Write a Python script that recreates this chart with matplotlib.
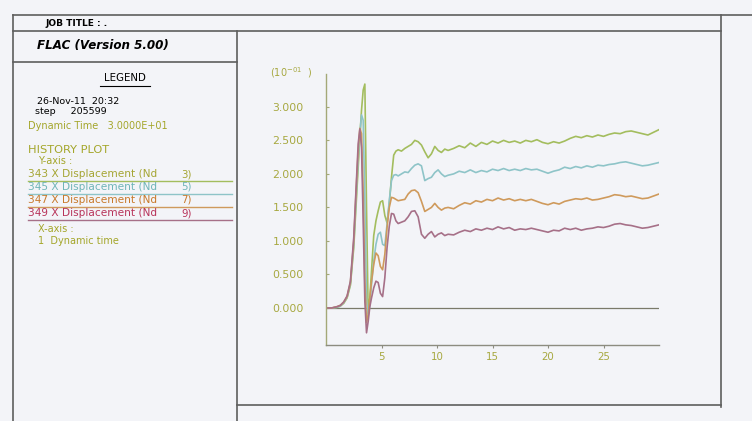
import matplotlib
matplotlib.use("Agg")
import matplotlib.pyplot as plt
from matplotlib.lines import Line2D

# ---------------- data ----------------
time = [0.0, 0.5, 1.0, 1.3, 1.6, 1.9, 2.2, 2.5, 2.7, 2.9, 3.05, 3.2, 3.35, 3.5, 3.65,
        3.8, 3.95, 4.1, 4.3, 4.5, 4.7, 4.9, 5.1, 5.3, 5.5, 5.7, 5.9, 6.1, 6.3, 6.5,
        6.8, 7.1, 7.4, 7.7, 8.0, 8.3, 8.6, 8.9, 9.2, 9.5, 9.8, 10.1, 10.4, 10.7, 11.0,
        11.5, 12.0, 12.5, 13.0, 13.5, 14.0, 14.5, 15.0, 15.5, 16.0, 16.5, 17.0, 17.5,
        18.0, 18.5, 19.0, 19.5, 20.0, 20.5, 21.0, 21.5, 22.0, 22.5, 23.0, 23.5, 24.0,
        24.5, 25.0, 25.5, 26.0, 26.5, 27.0, 27.5, 28.0, 28.5, 29.0, 29.5, 30.0]

disp_343 = [0.0, 0.0, 0.01, 0.03, 0.07, 0.15, 0.34, 0.9, 1.5, 2.1, 2.55, 2.95, 3.25, 3.34, 1.5,
            -0.08, 0.15, 0.55, 1.08, 1.3, 1.45, 1.58, 1.6, 1.38, 1.27, 1.55, 1.95, 2.28, 2.34, 2.36,
            2.34, 2.38, 2.41, 2.44, 2.5, 2.48, 2.43, 2.33, 2.24, 2.3, 2.41, 2.35, 2.32, 2.37, 2.35,
            2.38, 2.42, 2.39, 2.46, 2.41, 2.47, 2.44, 2.49, 2.46, 2.5, 2.47, 2.49, 2.46,
            2.5, 2.48, 2.51, 2.47, 2.45, 2.48, 2.46, 2.49, 2.53, 2.56, 2.54, 2.57, 2.55,
            2.58, 2.56, 2.59, 2.61, 2.6, 2.63, 2.64, 2.62, 2.6, 2.58, 2.62, 2.66]

disp_345 = [0.0, 0.0, 0.01, 0.03, 0.08, 0.16, 0.36, 0.95, 1.6, 2.2, 2.6, 2.88, 2.8, 1.6, 0.1,
            -0.12, 0.05, 0.35, 0.7, 0.95, 1.1, 1.13, 0.95, 0.93, 1.25, 1.6, 1.9, 1.98, 1.99, 1.97,
            2.0, 2.03, 2.02, 2.08, 2.13, 2.15, 2.12, 1.9, 1.93, 1.95, 2.02, 2.06, 2.0, 1.96, 1.98,
            2.0, 2.04, 2.02, 2.06, 2.02, 2.05, 2.03, 2.07, 2.05, 2.08, 2.05, 2.07, 2.05,
            2.08, 2.06, 2.07, 2.04, 2.01, 2.04, 2.06, 2.1, 2.08, 2.11, 2.09, 2.12, 2.1,
            2.13, 2.12, 2.14, 2.15, 2.17, 2.18, 2.16, 2.14, 2.12, 2.13, 2.15, 2.17]

disp_347 = [0.0, 0.0, 0.02, 0.04, 0.09, 0.17, 0.38, 1.0, 1.7, 2.35, 2.68, 2.6, 1.7, 0.4, -0.22,
            -0.1, 0.15, 0.4, 0.65, 0.82, 0.78, 0.62, 0.57, 0.8, 1.2, 1.5, 1.65, 1.64, 1.62, 1.6,
            1.61, 1.62, 1.7, 1.75, 1.76, 1.72, 1.59, 1.44, 1.47, 1.5, 1.56, 1.5, 1.46, 1.49, 1.5,
            1.48, 1.53, 1.57, 1.55, 1.6, 1.58, 1.62, 1.6, 1.64, 1.61, 1.63, 1.6, 1.62,
            1.6, 1.62, 1.59, 1.56, 1.54, 1.57, 1.55, 1.59, 1.61, 1.63, 1.62, 1.64, 1.61,
            1.62, 1.64, 1.66, 1.69, 1.68, 1.66, 1.67, 1.65, 1.63, 1.64, 1.67, 1.7]

disp_349 = [0.0, 0.0, 0.02, 0.04, 0.09, 0.18, 0.4, 1.05, 1.75, 2.45, 2.67, 2.4, 1.3, 0.1, -0.37,
            -0.2, 0.02, 0.15, 0.3, 0.4, 0.38, 0.22, 0.17, 0.45, 0.9, 1.22, 1.41, 1.4, 1.3, 1.26,
            1.28, 1.3, 1.36, 1.44, 1.45, 1.36, 1.1, 1.04, 1.1, 1.14, 1.06, 1.1, 1.12, 1.08, 1.1,
            1.09, 1.13, 1.16, 1.14, 1.18, 1.16, 1.19, 1.17, 1.21, 1.18, 1.2, 1.16, 1.18,
            1.17, 1.19, 1.17, 1.15, 1.13, 1.16, 1.15, 1.19, 1.17, 1.19, 1.16, 1.18, 1.19,
            1.21, 1.2, 1.22, 1.25, 1.26, 1.24, 1.23, 1.21, 1.19, 1.2, 1.22, 1.24]

series_labels = ["343 X Displacement (Nd", "345 X Displacement (Nd",
                 "347 X Displacement (Nd", "349 X Displacement (Nd"]
series_nodes = ["3)", "5)", "7)", "9)"]
yticks = [0.0, 0.5, 1.0, 1.5, 2.0, 2.5, 3.0]
xticks = [5, 10, 15, 20, 25]

# ---------------- style ----------------
W, H = 752, 421
line_colors = ["#a3bd5e", "#8ec4c8", "#cf9a5c", "#a67088"]
text_colors = ["#a5a533", "#6fb5b8", "#c8792a", "#b8345a"]
olive = "#a4a62a"
frame = "#5e5e5e"
FONT = "DejaVu Sans"

fig = plt.figure(figsize=(W / 100, H / 100), dpi=100, facecolor="#f3f4f8")


def fx(px):
    return px / W


def fy(py):
    return 1 - py / H


def hline(y, x0, x1, color=frame, lw=1.2):
    fig.add_artist(Line2D([fx(x0), fx(x1)], [fy(y), fy(y)], color=color, lw=lw,
                          transform=fig.transFigure))


def vline(x, y0, y1, color=frame, lw=1.2):
    fig.add_artist(Line2D([fx(x), fx(x)], [fy(y0), fy(y1)], color=color, lw=lw,
                          transform=fig.transFigure))


def label(x, y, s, color="black", size=7.2, **kw):
    fig.text(fx(x), fy(y), s, color=color, fontsize=size, family=FONT,
             va="center", ha=kw.pop("ha", "left"), **kw)


# frame
hline(15, 13, 752)
hline(31, 13, 721)
vline(721, 15, 407)
vline(13, 15, 421)
vline(237, 31, 421)
hline(62, 13, 237)
hline(405, 237, 721)

# header texts
label(45, 23, "JOB TITLE : .", size=6.5, weight="bold")
label(37, 46, "FLAC (Version 5.00)", size=8.6, weight="bold", style="italic")
label(125, 78, "LEGEND", size=7.4, ha="center")
hline(86, 100, 150, color="black", lw=0.8)
label(37, 102, "26-Nov-11  20:32", size=6.8)
label(35, 111, "step     205599", size=6.8)
label(28, 126, "Dynamic Time   3.0000E+01", color=olive, size=7.0)
label(28, 150, "HISTORY PLOT", color=olive, size=8.2)
label(38, 161, "Y-axis :", color=olive, size=7.0)
for i, (lab, nd) in enumerate(zip(series_labels, series_nodes)):
    yy = 174 + 13 * i
    label(28, yy, lab, color=text_colors[i], size=7.6)
    label(192, yy, nd, color=text_colors[i], size=7.4, ha="right")
    hline(yy + 7, 28, 232, color=line_colors[i], lw=1.0)
label(38, 229, "X-axis :", color=olive, size=7.0)
label(38, 241, "1  Dynamic time", color=olive, size=7.0)

# ---------------- plot ----------------
ax = fig.add_axes([fx(326), fy(345), fx(659) - fx(326), fy(74) - fy(345)])
ax.set_facecolor("none")
ax.set_xlim(0, 30)
ax.set_ylim(-0.552, 3.49)

ax.plot([0, 30], [0, 0], color="#7a7a6a", lw=0.9, zorder=1)
for ys, c in zip([disp_343, disp_345, disp_347, disp_349], line_colors):
    ax.plot(time, ys, color=c, lw=1.2, zorder=2)

for s in ["top", "right"]:
    ax.spines[s].set_visible(False)
ax.spines["left"].set_color("#a4a878")
ax.spines["bottom"].set_color("#8c8c80")
ax.spines["left"].set_linewidth(1.0)
ax.spines["bottom"].set_linewidth(1.0)

ax.set_yticks(yticks)
ax.set_yticklabels([f"{v:.3f}" for v in yticks])
ax.set_xticks(xticks)
ax.set_xticklabels([str(v) for v in xticks])
ax.tick_params(axis="y", length=2, direction="in", color="#a4a878", pad=16,
               labelcolor="#a7a840", labelsize=7.8)
ax.tick_params(axis="x", length=2, direction="out", color="#8c8c80", pad=3,
               labelcolor="#a7a840", labelsize=7.4)
for t in ax.get_xticklabels() + ax.get_yticklabels():
    t.set_family(FONT)

fig.text(fx(270), fy(73), r"(10$^{-01}$  )", color="#a7a840", fontsize=7,
         family=FONT, va="center", ha="left")

fig.savefig("out.png", dpi=100, facecolor=fig.get_facecolor())
